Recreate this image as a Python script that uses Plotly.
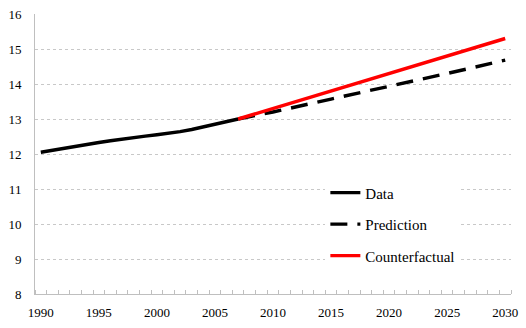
import plotly.graph_objects as go

# Historical series, 1990-2007
data_years = list(range(1990, 2008))
data_values = [12.05, 12.11, 12.17, 12.22, 12.28, 12.33, 12.38, 12.43, 12.47,
               12.51, 12.55, 12.59, 12.64, 12.70, 12.77, 12.84, 12.92, 13.00]

# Model prediction, 2007-2030
pred_years = [2007, 2010, 2015, 2020, 2025, 2030]
pred_values = [13.00, 13.20, 13.57, 13.93, 14.30, 14.68]

# Counterfactual path, 2007-2030
cf_years = [2007, 2030]
cf_values = [13.00, 15.30]

x_ticks = [1990, 1995, 2000, 2005, 2010, 2015, 2020, 2025, 2030]
y_ticks = [8, 9, 10, 11, 12, 13, 14, 15, 16]

serif = "Liberation Serif, Times New Roman, serif"

fig = go.Figure()
fig.add_trace(go.Scatter(x=data_years, y=data_values, mode="lines", name="Data",
                         legendgroup="a",
                         line=dict(color="black", width=3.4)))
fig.add_trace(go.Scatter(x=pred_years, y=pred_values, mode="lines", name="Prediction",
                         legendgroup="b",
                         line=dict(color="black", width=3.4, dash="17px,10px")))
fig.add_trace(go.Scatter(x=cf_years, y=cf_values, mode="lines", name="Counterfactual",
                         legendgroup="c",
                         line=dict(color="#ff0000", width=3.4)))

fig.update_layout(
    width=526, height=328,
    autosize=False,
    margin=dict(l=35, r=15, t=14, b=34, pad=0),
    paper_bgcolor="white", plot_bgcolor="white",
    font=dict(family=serif, size=13, color="black"),
    showlegend=True,
    legend=dict(x=0.61, y=0.42, xanchor="left", yanchor="top",
                bgcolor="white", borderwidth=0,
                traceorder="grouped", tracegroupgap=9,
                font=dict(family=serif, size=15, color="black")),
    xaxis=dict(range=[1989.5, 2030.5], tickvals=x_ticks, ticks="",
               automargin=False,
               showgrid=False, zeroline=False,
               showline=True, linecolor="#bfbfbf", linewidth=1,
               ticklabelstandoff=6,
               minor=dict(ticks="inside", tick0=1989.5, dtick=1, ticklen=4,
                          tickcolor="#bfbfbf", showgrid=False)),
    yaxis=dict(range=[8, 16], tickvals=y_ticks, ticks="",
               automargin=False,
               showgrid=True, gridcolor="#c8c8c8", gridwidth=1, griddash="3px,3px",
               zeroline=False, showline=True, linecolor="#bfbfbf", linewidth=1,
               ticklabelstandoff=10),
)

fig.write_html("out.html")
